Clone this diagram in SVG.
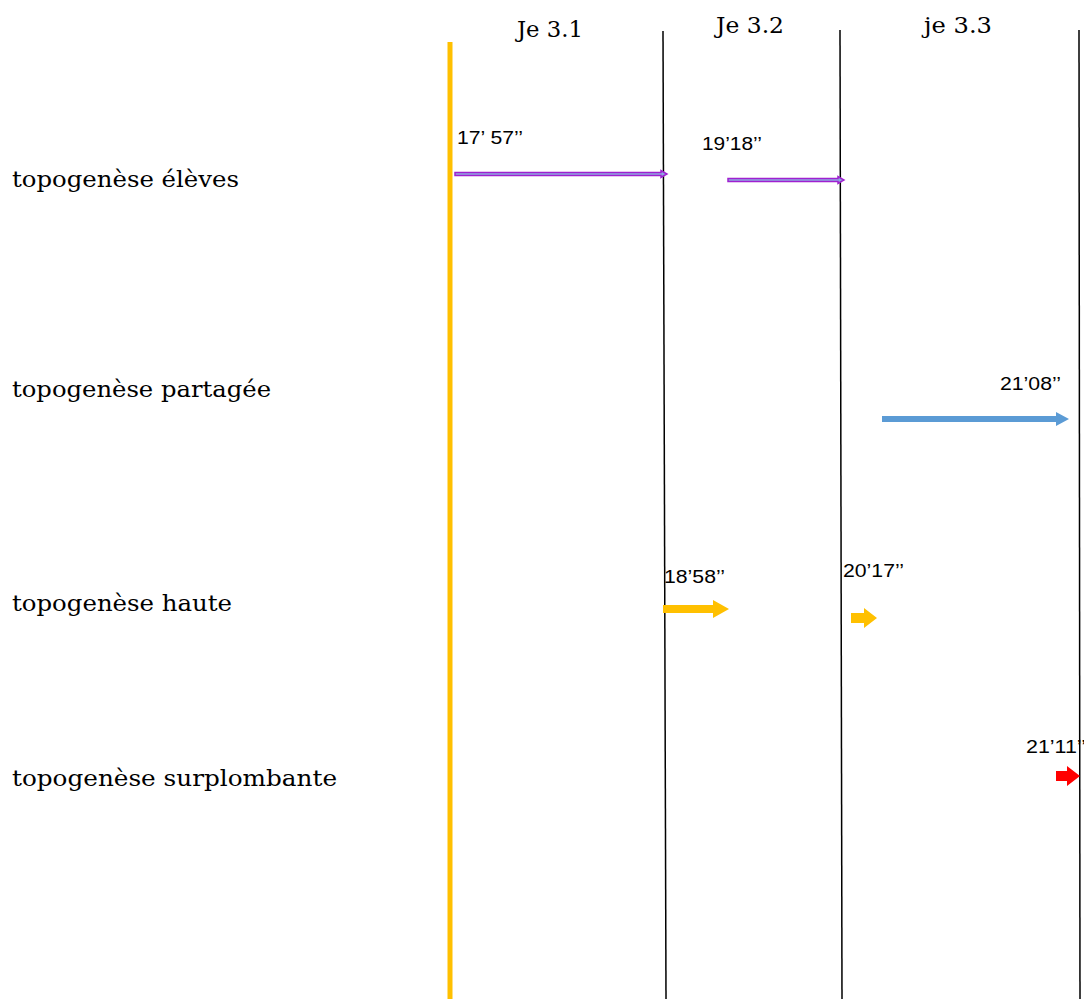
<svg xmlns="http://www.w3.org/2000/svg" width="1084" height="999" viewBox="0 0 1084 999">
<defs>
<style>
.row{font-family:"DejaVu Serif","Liberation Serif",serif;font-size:23px;fill:#000}
.hdr{font-family:"DejaVu Serif","Liberation Serif",serif;font-size:23px;fill:#000}
.t{font-family:"Liberation Sans","DejaVu Sans",sans-serif;font-size:18px;fill:#000}
.vl{stroke:#000;stroke-width:1.5;fill:none}
.purple{fill:#8fa8e0;stroke:#a020d0;stroke-width:1.5}
</style>
<linearGradient id="bg" x1="0" x2="1" y1="0" y2="0">
<stop offset="0" stop-color="#ffc000" stop-opacity="0"/>
<stop offset="1" stop-color="#ffc000"/>
</linearGradient>
</defs>
<rect width="1084" height="999" fill="#fff"/>
<g id="axes">
<line x1="450" y1="42" x2="450" y2="999" stroke="#ffc000" stroke-width="5"/>
<line class="vl" x1="663" y1="31" x2="666" y2="999"/>
<line class="vl" x1="840" y1="30" x2="842" y2="999"/>
<line class="vl" x1="1079" y1="30" x2="1080" y2="999"/>
<line x1="666" y1="997.5" x2="1080" y2="997.5" stroke="url(#bg)" stroke-width="2"/>
</g>
<g id="headers">
<text class="hdr" x="517" y="37" textLength="66" lengthAdjust="spacingAndGlyphs">Je 3.1</text>
<text class="hdr" x="716" y="33" textLength="68" lengthAdjust="spacingAndGlyphs">Je 3.2</text>
<text class="hdr" x="924" y="33" textLength="68" lengthAdjust="spacingAndGlyphs">je 3.3</text>
</g>
<g id="row-eleves"><text class="row" x="12" y="187" textLength="227" lengthAdjust="spacingAndGlyphs">topogenèse élèves</text></g>
<g id="row-partagee"><text class="row" x="12" y="397" textLength="259" lengthAdjust="spacingAndGlyphs">topogenèse partagée</text></g>
<g id="row-haute"><text class="row" x="12" y="611" textLength="220" lengthAdjust="spacingAndGlyphs">topogenèse haute</text></g>
<g id="row-surplombante"><text class="row" x="12" y="786" textLength="325" lengthAdjust="spacingAndGlyphs">topogenèse surplombante</text></g>
<g id="labels">
<text class="t" x="457" y="144" textLength="66" lengthAdjust="spacingAndGlyphs">17’ 57’’</text>
<text class="t" x="702" y="150" textLength="60" lengthAdjust="spacingAndGlyphs">19’18’’</text>
<text class="t" x="1000" y="390" textLength="61" lengthAdjust="spacingAndGlyphs">21’08’’</text>
<text class="t" x="664" y="583" textLength="61" lengthAdjust="spacingAndGlyphs">18’58’’</text>
<text class="t" x="843" y="577" textLength="61" lengthAdjust="spacingAndGlyphs">20’17’’</text>
<text class="t" x="1026" y="753" textLength="60" lengthAdjust="spacingAndGlyphs">21’11’’</text>
</g>
<g id="connectors">
<polygon class="purple" points="455,172.5 661,172.5 661,170.5 667,174 661,177.5 661,175.5 455,175.5"/>
<polygon class="purple" points="728,178.5 838,178.5 838,176.5 844,180 838,183.5 838,181.5 728,181.5"/>
<polygon fill="#5b9bd5" points="882,416 1056,416 1056,412 1069,419 1056,426 1056,422 882,422"/>
<polygon fill="#ffc000" points="663,605 713,605 713,600 729,609 713,618 713,613 663,613"/>
<polygon fill="#ffc000" points="851,613 864,613 864,608 877,618 864,628 864,623 851,623"/>
<polygon fill="#ff0000" points="1056,771 1067,771 1067,766 1080,776 1067,786 1067,781 1056,781"/>
</g>
</svg>
